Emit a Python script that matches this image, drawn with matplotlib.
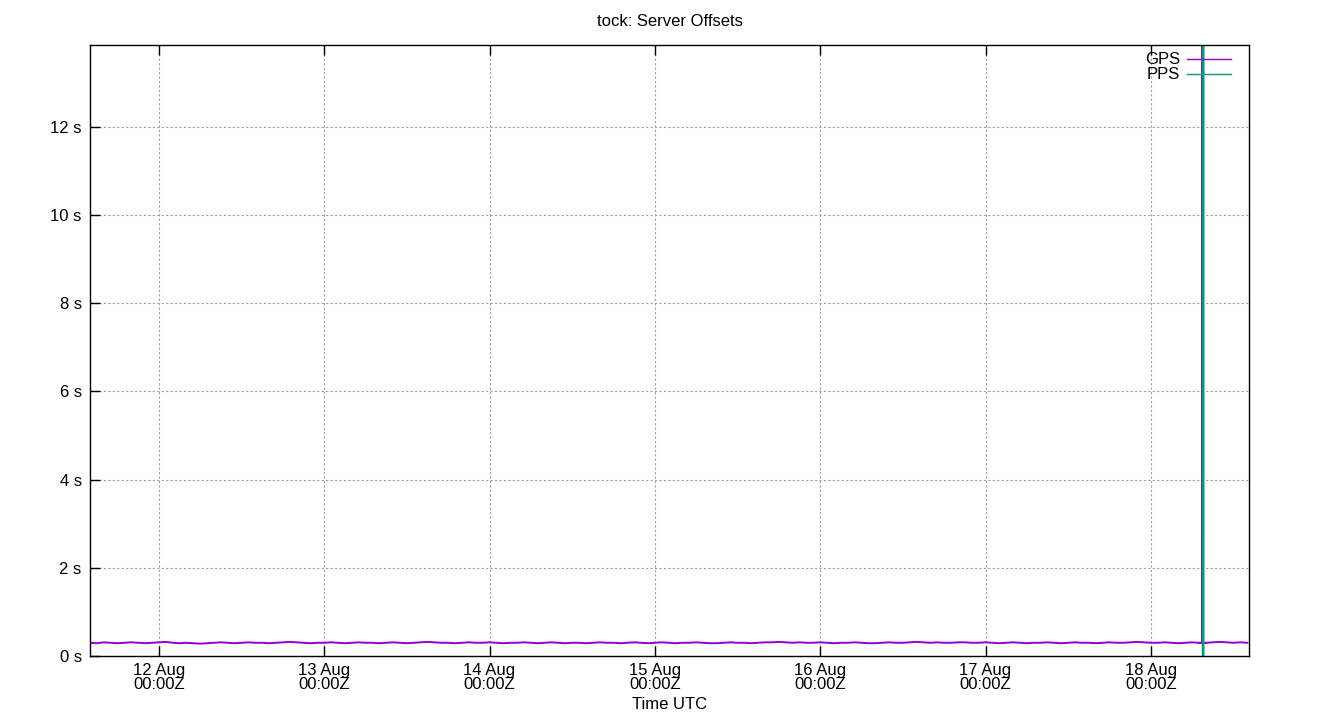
import datetime as dt
import matplotlib
matplotlib.use('Agg')
import matplotlib.pyplot as plt
import matplotlib.dates as mdates

plt.rcParams['font.family'] = ['Liberation Sans', 'DejaVu Sans']

# GPS offsets, one sample per hour from 11 Aug 14:00Z (seconds)
gps_start = dt.datetime(2023, 8, 11, 14, 0)
gps_offsets = [
    0.30, 0.29, 0.31, 0.30, 0.29, 0.30, 0.31, 0.30, 0.29, 0.30, 0.31, 0.32,
    0.30, 0.29, 0.30, 0.29, 0.28, 0.29, 0.30, 0.31, 0.30, 0.29, 0.30, 0.31,
    0.30, 0.30, 0.29, 0.30, 0.31, 0.32, 0.31, 0.30, 0.29, 0.30, 0.30, 0.31,
    0.30, 0.29, 0.30, 0.31, 0.30, 0.30, 0.29, 0.30, 0.31, 0.30, 0.29, 0.30,
    0.31, 0.32, 0.31, 0.30, 0.30, 0.29, 0.30, 0.31, 0.30, 0.30, 0.31, 0.30,
    0.29, 0.30, 0.30, 0.31, 0.30, 0.29, 0.30, 0.31, 0.30, 0.29, 0.30, 0.30,
    0.29, 0.30, 0.31, 0.30, 0.30, 0.29, 0.30, 0.31, 0.30, 0.29, 0.30, 0.31,
    0.30, 0.29, 0.30, 0.30, 0.31, 0.30, 0.29, 0.29, 0.30, 0.31, 0.30, 0.30,
    0.29, 0.30, 0.31, 0.31, 0.32, 0.31, 0.30, 0.31, 0.30, 0.30, 0.31, 0.30,
    0.29, 0.30, 0.30, 0.31, 0.30, 0.29, 0.29, 0.30, 0.31, 0.30, 0.30, 0.31,
    0.32, 0.31, 0.30, 0.31, 0.30, 0.30, 0.31, 0.31, 0.30, 0.30, 0.31, 0.30,
    0.29, 0.30, 0.31, 0.30, 0.29, 0.30, 0.30, 0.31, 0.30, 0.29, 0.30, 0.31,
    0.30, 0.30, 0.29, 0.30, 0.31, 0.30, 0.30, 0.31, 0.32, 0.31, 0.30, 0.30,
    0.31, 0.30, 0.29, 0.30, 0.31, 0.30, 0.30, 0.31, 0.32, 0.31, 0.30, 0.31,
    0.30,
]
gps_times = [gps_start + dt.timedelta(hours=i) for i in range(len(gps_offsets))]

# GPS jumps off the scale on 18 Aug just before 07:35Z
gps_spike_times = [dt.datetime(2023, 8, 18, 7, 0), dt.datetime(2023, 8, 18, 7, 26),
                   dt.datetime(2023, 8, 18, 7, 26), dt.datetime(2023, 8, 18, 7, 35),
                   dt.datetime(2023, 8, 18, 7, 35), dt.datetime(2023, 8, 18, 8, 0)]
gps_spike_offsets = [0.30, 0.30, 40.0, 40.0, 0.30, 0.30]

# PPS: only a burst of wild samples on 18 Aug
pps_times = [dt.datetime(2023, 8, 18, 7, 35), dt.datetime(2023, 8, 18, 7, 36)]
pps_offsets = [-40.0, 40.0]

x_min = dt.datetime(2023, 8, 11, 14, 0)
x_max = dt.datetime(2023, 8, 18, 14, 15)
y_max = 13.86

fig = plt.figure(figsize=(13.4, 7.2), dpi=100)
ax = fig.add_axes([90 / 1340, 64 / 720, 1159 / 1340, 611 / 720])

ax.plot(gps_times, gps_offsets, color='#9400d3', lw=1.4, label='GPS')
ax.plot(gps_spike_times, gps_spike_offsets, color='#9400d3', lw=1.4)
ax.plot(pps_times, pps_offsets, color='#009e73', lw=2, label='PPS')

ax.set_xlim(x_min, x_max)
ax.set_ylim(0, y_max)

ax.yaxis.set_major_locator(plt.MultipleLocator(2))
ax.yaxis.set_major_formatter(plt.FuncFormatter(lambda v, p: f'{v:g} s'))
ax.xaxis.set_major_locator(mdates.DayLocator())
ax.xaxis.set_major_formatter(mdates.DateFormatter('%d %b\n%H:%MZ'))

ax.tick_params(direction='in', length=7, width=1, top=True, right=False,
               labelsize=12, color='black')
ax.tick_params(axis='x', pad=5)
ax.tick_params(axis='y', pad=6)
for lab in ax.get_xticklabels():
    lab.set_linespacing(0.95)
ax.grid(True, color='#a0a0a0', linestyle=(0, (2, 2)), lw=0.8)
for s in ax.spines.values():
    s.set_linewidth(1)

ax.set_xlabel('Time UTC', fontsize=12, labelpad=3)
fig.text(0.5, 1 - 21 / 720, 'tock: Server Offsets', ha='center', va='center', fontsize=12)

leg = ax.legend(loc='upper right', frameon=False, markerfirst=False, fontsize=12,
                handlelength=2.65, handletextpad=0.4, labelspacing=0.0,
                borderaxespad=0.1, borderpad=0.35, bbox_to_anchor=(0.991, 1.0))
for h in leg.get_lines():
    h.set_linewidth(1)

fig.savefig('out.png', dpi=100)
